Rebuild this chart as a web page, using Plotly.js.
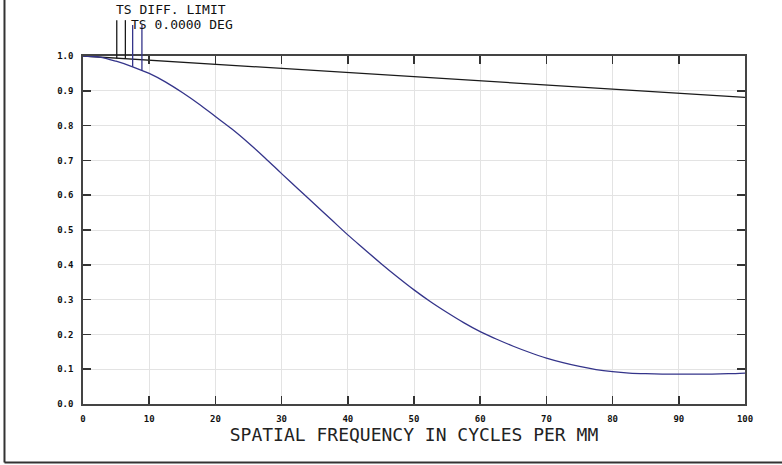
<!DOCTYPE html>
<html>
<head>
<meta charset="utf-8">
<script src="https://cdn.plot.ly/plotly-3.0.1.min.js"></script>
<style>html,body{margin:0;padding:0;background:#fff;overflow:hidden;}#chart{width:782px;height:465px;}</style>
</head>
<body>
<div id="chart"></div>
<script>
// Spatial frequency samples (cycles/mm)
const freqDiff = [0, 10, 20, 30, 40, 50, 60, 70, 80, 90, 100];
const mtfDiffLimit = [1.0, 0.988, 0.976, 0.964, 0.952, 0.940, 0.929, 0.917, 0.905, 0.893, 0.881];

const freqField = [0, 2.5, 5, 7.5, 10, 12.5, 15, 17.5, 20, 22.5, 25, 27.5, 30, 32.5, 35, 37.5, 40, 42.5, 45, 47.5, 50,
  52.5, 55, 57.5, 60, 62.5, 65, 67.5, 70, 72.5, 75, 77.5, 80, 82.5, 85, 87.5, 90, 92.5, 95, 97.5, 100];
const mtfField = [1.0, 0.997, 0.985, 0.969, 0.950, 0.925, 0.895, 0.862, 0.826, 0.790, 0.750, 0.707, 0.662, 0.618, 0.574,
  0.530, 0.486, 0.445, 0.404, 0.365, 0.328, 0.294, 0.263, 0.234, 0.208, 0.186, 0.166, 0.148, 0.132, 0.119, 0.108,
  0.099, 0.093, 0.089, 0.087, 0.086, 0.086, 0.086, 0.086, 0.087, 0.089];

const xTicks = [0, 10, 20, 30, 40, 50, 60, 70, 80, 90, 100];
const yTicks = [0, 0.1, 0.2, 0.3, 0.4, 0.5, 0.6, 0.7, 0.8, 0.9, 1.0];
const yTickText = ['0.0', '0.1', '0.2', '0.3', '0.4', '0.5', '0.6', '0.7', '0.8', '0.9', '1.0'];

const legendDiff = 'TS DIFF. LIMIT';
const legendField = 'TS 0.0000 DEG';
const leaderFreqDiff = [5.1, 6.4];
const leaderFreqField = [7.5, 8.9];
const xTitle = 'SPATIAL FREQUENCY IN CYCLES PER MM';

const blue = '#34348a';
const black = '#1a1a1a';

function interp(xs, ys, x) {
  for (let i = 0; i < xs.length - 1; i++) {
    if (x >= xs[i] && x <= xs[i + 1]) {
      const t = (x - xs[i]) / (xs[i + 1] - xs[i]);
      return ys[i] + t * (ys[i + 1] - ys[i]);
    }
  }
  return ys[ys.length - 1];
}

const traces = [
  {x: freqDiff, y: mtfDiffLimit, mode: 'lines', line: {color: black, width: 1.3}, hoverinfo: 'none'},
  {x: freqField, y: mtfField, mode: 'lines', line: {color: blue, width: 1.3, shape: 'spline'}, hoverinfo: 'none'}
];

const shapes = [];
leaderFreqDiff.forEach(f => shapes.push({type: 'line', xref: 'x', yref: 'paper', x0: f, x1: f,
  y0: interp(freqDiff, mtfDiffLimit, f), y1: 1.103, line: {color: black, width: 1.3}}));
leaderFreqField.forEach(f => shapes.push({type: 'line', xref: 'x', yref: 'paper', x0: f, x1: f,
  y0: interp(freqField, mtfField, f), y1: 1.089, line: {color: blue, width: 1.3}}));
// page border (left and bottom)
shapes.push({type: 'line', xref: 'paper', yref: 'paper', x0: -0.1186, x1: -0.1186, y0: 1.161, y1: -0.168, line: {color: '#333', width: 2}});
shapes.push({type: 'line', xref: 'paper', yref: 'paper', x0: -0.1186, x1: 1.056, y0: -0.168, y1: -0.168, line: {color: '#333', width: 2}});

const monoFont = 'DejaVu Sans Mono, Liberation Mono, monospace';

const layout = {
  width: 782, height: 465,
  margin: {l: 83, r: 37, t: 56, b: 61},
  paper_bgcolor: '#fff', plot_bgcolor: '#fff',
  showlegend: false,
  xaxis: {
    range: [0, 100], tickvals: xTicks, ticktext: xTicks.map(String),
    ticks: 'inside', ticklen: 8, tickwidth: 1.5, tickcolor: '#333',
    showline: true, linecolor: '#444', linewidth: 1.8, mirror: 'ticks',
    showgrid: true, gridcolor: '#e3e3e3', gridwidth: 1, zeroline: false,
    ticklabelstandoff: 5,
    tickfont: {family: monoFont, size: 9, color: '#111', weight: 'bold'},
    title: {text: xTitle, font: {family: monoFont, size: 18, color: '#222'}, standoff: 3}
  },
  yaxis: {
    range: [0, 1], tickvals: yTicks, ticktext: yTickText,
    ticks: 'inside', ticklen: 8, tickwidth: 1.5, tickcolor: '#333',
    showline: true, linecolor: '#444', linewidth: 1.8, mirror: 'ticks',
    showgrid: true, gridcolor: '#e3e3e3', gridwidth: 1, zeroline: false,
    ticklabelstandoff: 6,
    tickfont: {family: monoFont, size: 9, color: '#111', weight: 'bold'}
  },
  shapes: shapes,
  annotations: [
    {xref: 'x', yref: 'paper', x: 4.8, y: 1.134, xanchor: 'left', yanchor: 'middle', text: legendDiff,
      borderpad: 0, showarrow: false, font: {family: monoFont, size: 13, color: '#111'}},
    {xref: 'x', yref: 'paper', x: 7.1, y: 1.090, xanchor: 'left', yanchor: 'middle', text: legendField,
      borderpad: 0, showarrow: false, font: {family: monoFont, size: 13, color: '#111'}}
  ]
};

Plotly.newPlot('chart', traces, layout, {staticPlot: true, displayModeBar: false});
</script>
</body>
</html>
